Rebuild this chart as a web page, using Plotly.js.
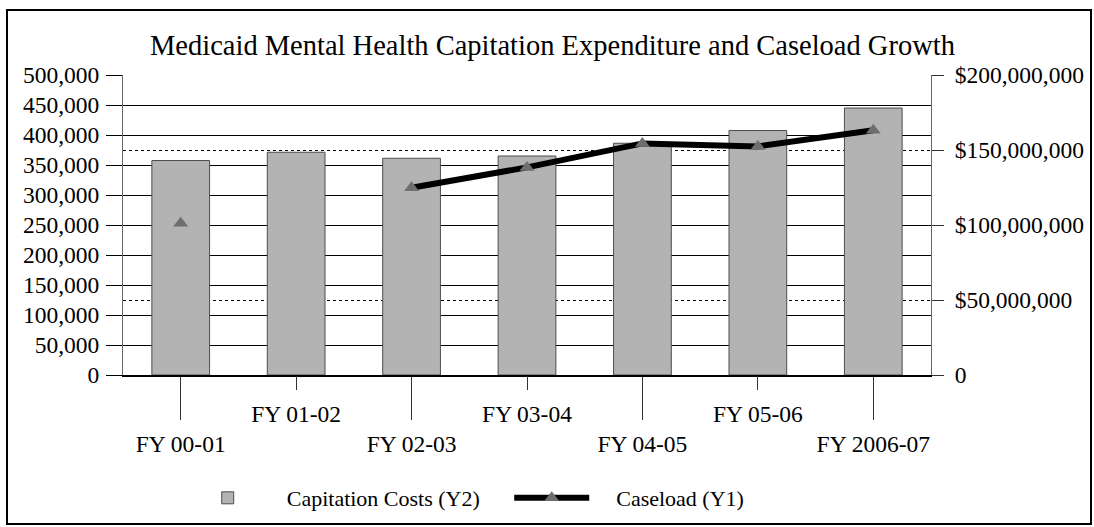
<!DOCTYPE html>
<html>
<head>
<meta charset="utf-8">
<script src="https://cdn.plot.ly/plotly-3.0.1.min.js"></script>
<style>
  body { margin: 0; background: #fff; }
  #plot { width: 1094px; height: 527px; }
  #frame { position: absolute; left: 6px; top: 9px; width: 1082px; height: 512px;
           border: 2px solid #000; pointer-events: none; }
</style>
</head>
<body>
<div id="plot"></div>
<div id="frame"></div>
<script>
const years = ['FY 00-01', 'FY 01-02', 'FY 02-03', 'FY 03-04', 'FY 04-05', 'FY 05-06', 'FY 2006-07'];
const capitationCosts = [143000000, 148500000, 144500000, 146000000, 154500000, 163000000, 178000000];
const caseload = [253000, null, 312000, 346000, 386000, 381000, 408000];
const costTicks = [0, 50000000, 100000000, 150000000, 200000000];

const serif = 'Liberation Serif, Times New Roman, serif';
const idx = years.map((_, i) => i);
// labels alternate between a low row (long tick) and a high row (short tick)
const evenIdx = idx.filter(i => i % 2 === 0);
const oddIdx = idx.filter(i => i % 2 === 1);
const pad = n => '\u00a0'.repeat(n);

const bars = {
    x: idx,
    y: capitationCosts,
    type: 'bar',
    name: pad(3) + 'Capitation Costs (Y2)',
    xaxis: 'x',
    yaxis: 'y',
    marker: { color: '#b3b3b3', line: { color: '#4d4d4d', width: 1 } },
    width: 0.5
};

const line = {
    x: idx,
    y: caseload,
    type: 'scatter',
    mode: 'lines+markers',
    name: pad(4) + 'Caseload (Y1)',
    xaxis: 'x2',
    yaxis: 'y2',
    connectgaps: false,
    line: { color: '#000', width: 6 },
    marker: { symbol: 'triangle-up', size: 13, color: '#6e6e6e' }
};

const tickFont = { family: serif, size: 23.5, color: '#000' };

const layout = {
    width: 1094,
    height: 527,
    margin: { l: 123, r: 163, t: 75, b: 152 },
    paper_bgcolor: '#fff',
    plot_bgcolor: '#fff',
    font: { family: serif, size: 22, color: '#000' },
    showlegend: true,
    title: {
        text: 'Medicaid Mental Health Capitation Expenditure and Caseload Growth',
        font: { family: serif, size: 28.5, color: '#000' },
        x: 0.505, xanchor: 'center', y: 0.915, yanchor: 'middle'
    },
    xaxis: {
        range: [-0.5, 6.5],
        tickvals: evenIdx,
        ticktext: evenIdx.map(i => years[i]),
        ticks: 'outside', ticklen: 43, tickcolor: '#333', tickwidth: 1,
        ticklabelstandoff: 4,
        showgrid: false, zeroline: false,
        showline: true, linecolor: '#000', linewidth: 1.5,
        tickfont: tickFont
    },
    xaxis2: {
        range: [-0.5, 6.5],
        overlaying: 'x', anchor: 'y', side: 'bottom',
        tickvals: oddIdx,
        ticktext: oddIdx.map(i => years[i]),
        ticks: 'outside', ticklen: 14, tickcolor: '#333', tickwidth: 1,
        ticklabelstandoff: 4,
        showgrid: false, zeroline: false, showline: false,
        tickfont: tickFont
    },
    // cost axis (right) carries the bars
    yaxis: {
        side: 'right',
        anchor: 'x',
        range: [0, 200000000],
        tickvals: costTicks,
        ticktext: costTicks.map(v => v === 0 ? '0' : '$' + v.toLocaleString('en-US')),
        ticks: 'outside', ticklen: 12, tickcolor: '#333',
        ticklabelstandoff: 6,
        showgrid: true, gridcolor: '#000', gridwidth: 1, griddash: 'dot',
        zeroline: false,
        showline: true, linecolor: '#666', linewidth: 1,
        tickfont: tickFont
    },
    // caseload axis (left) overlays so the line sits above the bars
    yaxis2: {
        side: 'left',
        anchor: 'x',
        overlaying: 'y',
        range: [0, 500000],
        dtick: 50000,
        tickformat: ',d',
        ticks: 'outside', ticklen: 16, tickcolor: '#000',
        ticklabelstandoff: 2,
        showgrid: true, gridcolor: '#000', gridwidth: 1,
        zeroline: false,
        showline: true, linecolor: '#666', linewidth: 1,
        tickfont: tickFont
    },
    legend: {
        orientation: 'h',
        x: 0.077, xanchor: 'left',
        yref: 'container',
        y: 0.055, yanchor: 'middle',
        font: { family: serif, size: 22 },
        itemwidth: 75,
        entrywidth: 234
    }
};

Plotly.newPlot('plot', [bars, line], layout, { displayModeBar: false, staticPlot: true });
</script>
</body>
</html>
